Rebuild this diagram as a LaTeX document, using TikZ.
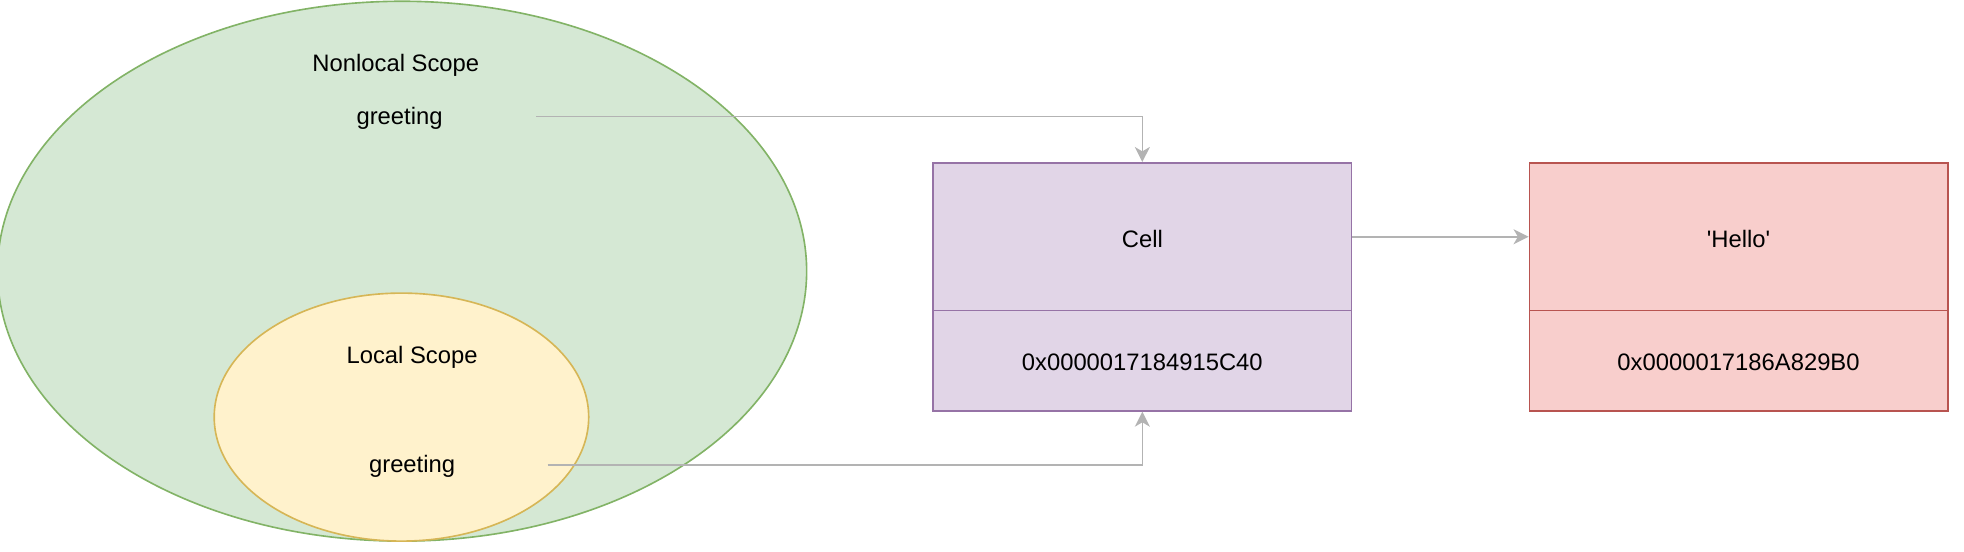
\documentclass[tikz,border=0pt]{standalone}
\usepackage{fontspec}
\setmainfont{Liberation Sans}
\usetikzlibrary{shapes.geometric,arrows.meta}
\definecolor{greenfill}{HTML}{D5E8D4}
\definecolor{greenline}{HTML}{82B366}
\definecolor{yellowfill}{HTML}{FFF2CC}
\definecolor{yellowline}{HTML}{D6B656}
\definecolor{purplefill}{HTML}{E1D5E7}
\definecolor{purpleline}{HTML}{9673A6}
\definecolor{redfill}{HTML}{F8CECC}
\definecolor{redline}{HTML}{B85450}
\definecolor{conn}{HTML}{B3B3B3}
\tikzset{
  lbl/.style={font=\fontsize{19}{23}\selectfont, inner sep=0pt, yshift=-1.5pt},
  scopeell/.style={ellipse, inner sep=0pt, line width=1.3pt},
  memcell/.style={rectangle, inner sep=0pt, line width=1.3pt, minimum width=334pt},
  connector/.style={draw=conn, line width=1.3pt, -{Stealth[length=12pt,width=12pt,inset=3.5pt]}},
}
\begin{document}
\begin{tikzpicture}[x=1pt,y=-1pt]
\useasboundingbox (0,0) rectangle (1568,440);
% scopes
\node[scopeell, fill=greenfill, draw=greenline, minimum width=646pt, minimum height=431pt] (outer) at (321,216.5) {};
\node[scopeell, fill=yellowfill, draw=yellowline, minimum width=299pt, minimum height=198pt] (inner) at (320.5,333) {};
\node[lbl] (nltitle) at (316,51) {Nonlocal Scope};
\node[lbl, minimum width=218pt] (nlvar) at (319,93) {greeting};
\node[lbl] (ltitle) at (329,284) {Local Scope};
\node[lbl, minimum width=216pt] (lvar) at (329,371) {greeting};
% cell object
\node[memcell, fill=purplefill, draw=purpleline, minimum height=118pt] (cellhead) at (912,189) {};
\node[memcell, fill=purplefill, draw=purpleline, minimum height=80pt] (celladdr) at (912,288) {};
\node[lbl] at (cellhead) {Cell};
\node[lbl] at (celladdr) {0x0000017184915C40};
% string object
\node[memcell, fill=redfill, draw=redline, minimum height=118pt] (strhead) at (1388,189) {};
\node[memcell, fill=redfill, draw=redline, minimum height=80pt] (straddr) at (1388,288) {};
\node[lbl] at (strhead) {\textquotesingle Hello\textquotesingle};
\node[lbl] at (straddr) {0x0000017186A829B0};
% connectors
\draw[connector] ([yshift=1.5pt]nlvar.east) -| (cellhead.north);
\draw[connector] ([yshift=1.5pt]lvar.east) -| (celladdr.south);
\draw[connector] (cellhead.east) -- (strhead.west);
\end{tikzpicture}
\end{document}
